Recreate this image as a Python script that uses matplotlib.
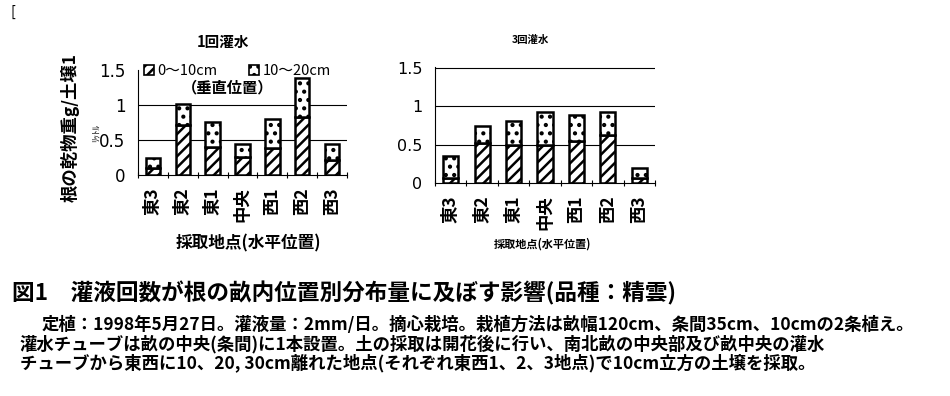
import matplotlib
matplotlib.use("Agg")
import matplotlib.pyplot as plt
from matplotlib.patches import Patch
import numpy as np

plt.rcParams['font.family'] = ['Noto Sans CJK JP', 'DejaVu Sans']
plt.rcParams['hatch.linewidth'] = 1.8
plt.rcParams['hatch.color'] = 'black'

sites = ["東3", "東2", "東1", "中央", "西1", "西2", "西3"]
# 1回灌水 : 0~10cm, 10~20cm (stacked)
once_top = [0.10, 0.71, 0.40, 0.26, 0.38, 0.83, 0.21]
once_total = [0.24, 1.01, 0.76, 0.45, 0.80, 1.38, 0.44]
# 3回灌水
three_top = [0.065, 0.52, 0.50, 0.50, 0.55, 0.63, 0.065]
three_total = [0.35, 0.74, 0.81, 0.93, 0.88, 0.92, 0.19]

legend_labels = ["0～10cm", "10～20cm"]

caption_title = "図1　灌液回数が根の畝内位置別分布量に及ぼす影響(品種：精雲)"
caption_lines = [
    "定植：1998年5月27日。灌液量：2mm/日。摘心栽培。栽植方法は畝幅120cm、条間35cm、10cmの2条植え。",
    "灌水チューブは畝の中央(条間)に1本設置。土の採取は開花後に行い、南北畝の中央部及び畝中央の灌水",
    "チューブから東西に10、20, 30cm離れた地点(それぞれ東西1、2、3地点)で10cm立方の土壌を採取。",
]


def draw(ax, bottom_vals, totals, top_grid, xfs, yfs):
    x = np.arange(len(sites))
    upper = [t - b for t, b in zip(totals, bottom_vals)]
    ax.bar(x, bottom_vals, 0.48, color="white", edgecolor="black",
           linewidth=1.8, hatch="///", zorder=3)
    ax.bar(x, upper, 0.48, bottom=bottom_vals, color="white", edgecolor="black",
           linewidth=1.8, hatch="..", zorder=3)
    ax.set_xlim(-0.5, len(sites) - 0.5)
    for g in [0.5, 1.0] + ([1.5] if top_grid else []):
        ax.axhline(g, color="black", lw=0.8, zorder=1)
    ax.set_yticks([0, 0.5, 1, 1.5])
    ax.set_yticklabels(["0", "0.5", "1", "1.5"], fontsize=yfs, family="DejaVu Sans")
    ax.tick_params(axis="y", length=0, pad=9)
    ax.set_xticks(x)
    ax.set_xticklabels(sites, rotation=90, fontsize=xfs, weight="bold")
    ax.tick_params(axis="x", length=0, pad=9)
    ax.set_xticks(np.arange(-0.5, len(sites)), minor=True)
    ax.tick_params(axis="x", which="minor", length=4, direction="inout", width=0.8)
    for s in ["top", "right"]:
        ax.spines[s].set_visible(False)
    ax.spines["left"].set_linewidth(0.8)
    ax.spines["bottom"].set_linewidth(0.8)


fig = plt.figure(figsize=(9.5, 3.96), dpi=100)

ax1 = fig.add_axes([138 / 950, 1 - 175 / 396, 209 / 950, 105 / 396])
draw(ax1, once_top, once_total, False, 12.5, 12)
ax1.set_ylim(0, 1.5)
ax1.set_xlabel("採取地点(水平位置)", fontsize=12, weight="bold", labelpad=5)
ax1.xaxis.set_label_coords(0.53, -0.57)
handles = [Patch(facecolor="white", edgecolor="black", hatch="///", lw=1.2),
           Patch(facecolor="white", edgecolor="black", hatch="..", lw=1.2)]
ax1.legend(handles, legend_labels, ncol=2, loc="upper left", bbox_to_anchor=(0.0, 1.11),
           frameon=False, fontsize=10.5, handlelength=0.7, handleheight=0.7,
           handletextpad=0.2, columnspacing=2.2, borderaxespad=0)
ax1.text(0.43, 0.83, "（垂直位置）", transform=ax1.transAxes, ha="center",
         va="center", fontsize=11, weight="bold")

ax2 = fig.add_axes([435 / 950, 1 - 183 / 396, 220 / 950, 116 / 396])
draw(ax2, three_top, three_total, True, 12.5, 11.5)
ax2.set_ylim(0, 1.51)
ax2.set_xlabel("採取地点(水平位置)", fontsize=8, weight="bold")
ax2.xaxis.set_label_coords(0.49, -0.47)

fig.text(223 / 950, 1 - 42 / 396, "1回灌水", ha="center", va="center",
         fontsize=10.5, weight="bold")
fig.text(530 / 950, 1 - 40 / 396, "3回灌水", ha="center", va="center",
         fontsize=7.5, weight="bold")
fig.text(70 / 950, 1 - 127 / 396, "根の乾物重g/土壌1", rotation=90, ha="center",
         va="center", fontsize=12.5, weight="bold")
fig.text(96 / 950, 1 - 133 / 396, "ﾘｯﾄﾙ", rotation=90, ha="center",
         va="center", fontsize=6.5)
fig.text(10 / 950, 1 - 12 / 396, "[", ha="left", va="center", fontsize=10)

fig.text(12 / 950, 1 - 293 / 396, caption_title, ha="left", va="center",
         fontsize=16.3, weight="bold")
fig.text(42 / 950, 1 - 325 / 396, caption_lines[0], ha="left", va="center",
         fontsize=12.5, weight="bold")
fig.text(20 / 950, 1 - 344 / 396, caption_lines[1], ha="left", va="center",
         fontsize=12.5, weight="bold")
fig.text(20 / 950, 1 - 363 / 396, caption_lines[2], ha="left", va="center",
         fontsize=12.5, weight="bold")

fig.savefig("out.png", dpi=100)
